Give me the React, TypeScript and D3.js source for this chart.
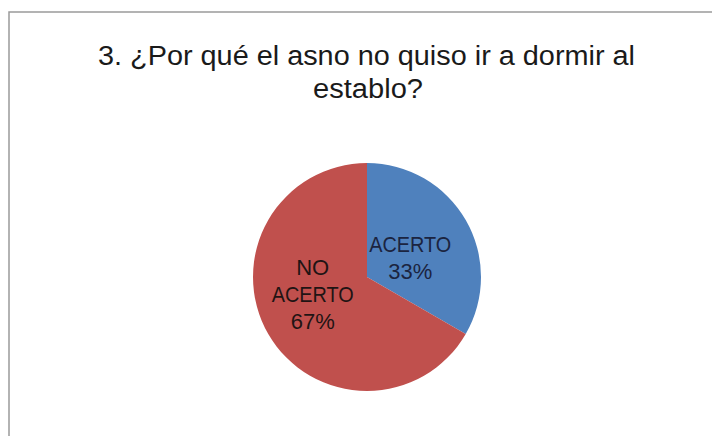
import React from "react";
import * as d3 from "d3";

const categories = ["ACERTO", "NO ACERTO"];
const values = [1, 2];
const colors = ["#4F81BD", "#C0504D"];
const textColors = ["#1b2440", "#1f1414"];
const titleLines = ["3. ¿Por qué el asno no quiso ir a dormir al", "establo?"];

const W = 712;
const H = 436;

export default function App() {
  const cx = 367;
  const cy = 277;
  const r = 114;
  const total = d3.sum(values);
  const pie = d3
    .pie<number>()
    .sort(null)
    .value((d) => d)
    .startAngle(0)
    .endAngle(2 * Math.PI);
  const arcs = pie(values);
  const arc = d3.arc<d3.PieArcDatum<number>>().innerRadius(0).outerRadius(r);
  const labelArc = d3.arc<d3.PieArcDatum<number>>().innerRadius(100).outerRadius(0);
  const nudges = [
    [0, 5],
    [-11, -8],
  ];
  const font = "'Liberation Sans', Arial, sans-serif";

  return (
    <svg
      width={W}
      height={H}
      style={{ position: "absolute", left: 0, top: 0, background: "#fff" }}
    >
      <rect x={0} y={0} width={W} height={H} fill="#fff" />
      <rect x={9} y={12} width={W + 20} height={H + 20} fill="#fff" stroke="#9a9a9a" strokeWidth={1.5} />
      <text
        x={366.5}
        y={65}
        textAnchor="middle"
        fontFamily={font}
        fontSize={27}
        fill="#1a1a1a"
        textLength={537}
        lengthAdjust="spacingAndGlyphs"
      >
        {titleLines[0]}
      </text>
      <text
        x={368}
        y={98}
        textAnchor="middle"
        fontFamily={font}
        fontSize={27}
        fill="#1a1a1a"
        textLength={110}
        lengthAdjust="spacingAndGlyphs"
      >
        {titleLines[1]}
      </text>
      <g transform={`translate(${cx},${cy})`}>
        {arcs.map((a, i) => (
          <path key={i} d={arc(a) || ""} fill={colors[i]} />
        ))}
        {arcs.map((a, i) => {
          const [lx, ly] = labelArc.centroid(a);
          const words = categories[i].split(" ");
          const pct = Math.round((values[i] / total) * 100) + "%";
          const lines = [...words, pct];
          const lh = 27;
          const x = lx + nudges[i][0];
          const y0 = ly + nudges[i][1] - ((lines.length - 1) * lh) / 2 + 8;
          return (
            <text
              key={"l" + i}
              textAnchor="middle"
              fontFamily={font}
              fontSize={22}
              fill={textColors[i]}
            >
              {lines.map((t, j) => (
                <tspan key={j} x={x} y={y0 + j * lh} textLength={t === "ACERTO" ? 82 : undefined} lengthAdjust="spacingAndGlyphs">
                  {t}
                </tspan>
              ))}
            </text>
          );
        })}
      </g>
    </svg>
  );
}
